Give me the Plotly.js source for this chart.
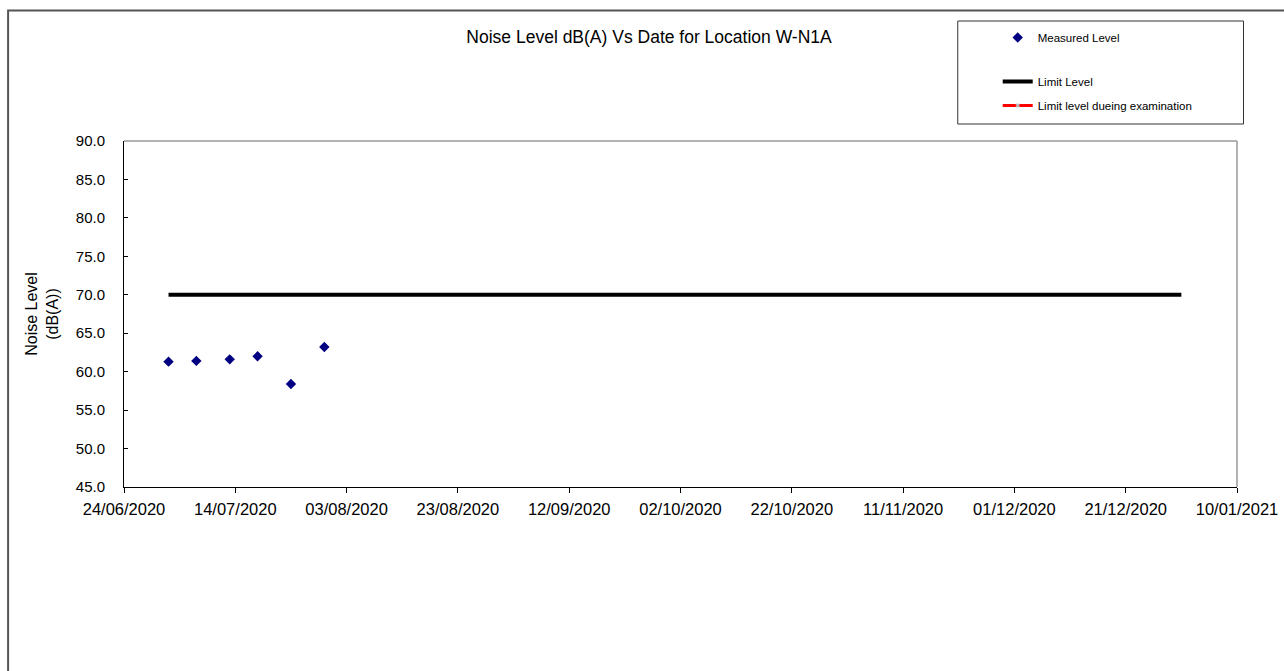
<!DOCTYPE html>
<html>
<head>
<meta charset="utf-8">
<script src="https://cdn.plot.ly/plotly-3.0.1.min.js"></script>
<style>html,body{margin:0;padding:0;background:#fff;}#chart{width:1284px;height:671px;}</style>
</head>
<body>
<div id="chart"></div>
<script>
// ---- data ----
const measuredDates = ['2020-07-02','2020-07-07','2020-07-13','2020-07-18','2020-07-24','2020-07-30'];
const measuredLevels = [61.3, 61.4, 61.6, 62.0, 58.4, 63.2];
const limitDates = ['2020-07-02','2020-12-31'];
const limitLevels = [70, 70];
const examDates = ['2020-07-02'];
const examLevels = [null];
const xTickDates = ['2020-06-24','2020-07-14','2020-08-03','2020-08-23','2020-09-12','2020-10-02','2020-10-22','2020-11-11','2020-12-01','2020-12-21','2021-01-10'];
const xTickLabels = ['24/06/2020','14/07/2020','03/08/2020','23/08/2020','12/09/2020','02/10/2020','22/10/2020','11/11/2020','01/12/2020','21/12/2020','10/01/2021'];
const titleText = 'Noise Level dB(A) Vs Date for Location W-N1A';

// ---- geometry ----
const W = 1284, H = 671;
const L = 123.5, R = 1237.5, T = 141, B = 487;
const pw = R - L, ph = B - T;
const px = x => (x - L) / pw;
const py = y => (B - y) / ph;

const font = 'Liberation Sans, Arial, sans-serif';

const traces = [
  {x: measuredDates, y: measuredLevels, type: 'scatter', mode: 'markers', name: 'Measured Level',
   marker: {symbol: 'diamond', color: '#000080', size: 8}, legend: 'legend'},
  {x: limitDates, y: limitLevels, type: 'scatter', mode: 'lines', name: 'Limit Level',
   line: {color: '#000000', width: 4}, legend: 'legend2', legendgroup: 'b'},
  {x: examDates, y: examLevels, type: 'scatter', mode: 'lines+markers', name: 'Limit level dueing examination',
   line: {color: '#ff0000', width: 3}, marker: {symbol: 'x', color: '#bbbbbb', size: 4}, legend: 'legend2', legendgroup: 'c'}
];

const legendFont = {family: font, size: 11.5, color: '#000'};

const layout = {
  width: W, height: H,
  margin: {l: L, r: W - R, t: T, b: H - B, pad: 0},
  paper_bgcolor: '#ffffff', plot_bgcolor: '#ffffff',
  font: {family: font, size: 13, color: '#000'},
  title: {text: titleText, font: {family: font, size: 17.5, color: '#000'},
          xref: 'paper', x: px(649), xanchor: 'center', yref: 'container', y: 1 - 37 / H, yanchor: 'middle'},
  xaxis: {
    type: 'date', range: ['2020-06-24', '2021-01-10'],
    tickmode: 'array', tickvals: xTickDates, ticktext: xTickLabels,
    showgrid: false, zeroline: false, showline: true, linecolor: '#000', linewidth: 1,
    ticks: 'outside', ticklen: 5, tickcolor: '#000', tickwidth: 1, ticklabelstandoff: 2,
    tickfont: {family: font, size: 16.5, color: '#000'}, fixedrange: true
  },
  yaxis: {
    range: [45, 90], tickmode: 'linear', tick0: 45, dtick: 5, tickformat: '.1f',
    showgrid: false, zeroline: false, showline: true, linecolor: '#000', linewidth: 1,
    ticks: 'inside', ticklen: 4, tickcolor: '#000', tickwidth: 1, ticklabelstandoff: 15,
    tickfont: {family: font, size: 15, color: '#000'},
    title: {text: 'Noise Level<br>(dB(A))', font: {family: font, size: 16, color: '#000'}, standoff: 13},
    fixedrange: true
  },
  showlegend: true,
  legend: {
    x: px(998), xanchor: 'left', y: py(23), yanchor: 'top',
    bgcolor: 'rgba(0,0,0,0)', borderwidth: 0, font: legendFont,
    itemclick: false, itemdoubleclick: false
  },
  legend2: {
    x: px(998), xanchor: 'left', y: py(67), yanchor: 'top',
    bgcolor: 'rgba(0,0,0,0)', borderwidth: 0, font: legendFont,
    tracegroupgap: 5, itemclick: false, itemdoubleclick: false
  },
  shapes: [
    // outer chart frame
    {type: 'rect', xref: 'paper', yref: 'paper', x0: px(7.5), x1: px(1300), y0: py(10.5), y1: py(700),
     line: {color: '#555555', width: 2}, layer: 'below'},
    // legend box
    {type: 'rect', xref: 'paper', yref: 'paper', x0: px(958), x1: px(1244), y0: py(21), y1: py(124),
     line: {color: '#333333', width: 1}, layer: 'below'},
    // plot area top and right border
    {type: 'line', xref: 'paper', yref: 'paper', x0: 0, x1: 1, y0: 1, y1: 1, line: {color: '#999999', width: 1.5}},
    {type: 'line', xref: 'paper', yref: 'paper', x0: 1, x1: 1, y0: 0, y1: 1, line: {color: '#999999', width: 1.5}}
  ]
};

Plotly.newPlot('chart', traces, layout, {displayModeBar: false, staticPlot: true});
</script>
</body>
</html>
